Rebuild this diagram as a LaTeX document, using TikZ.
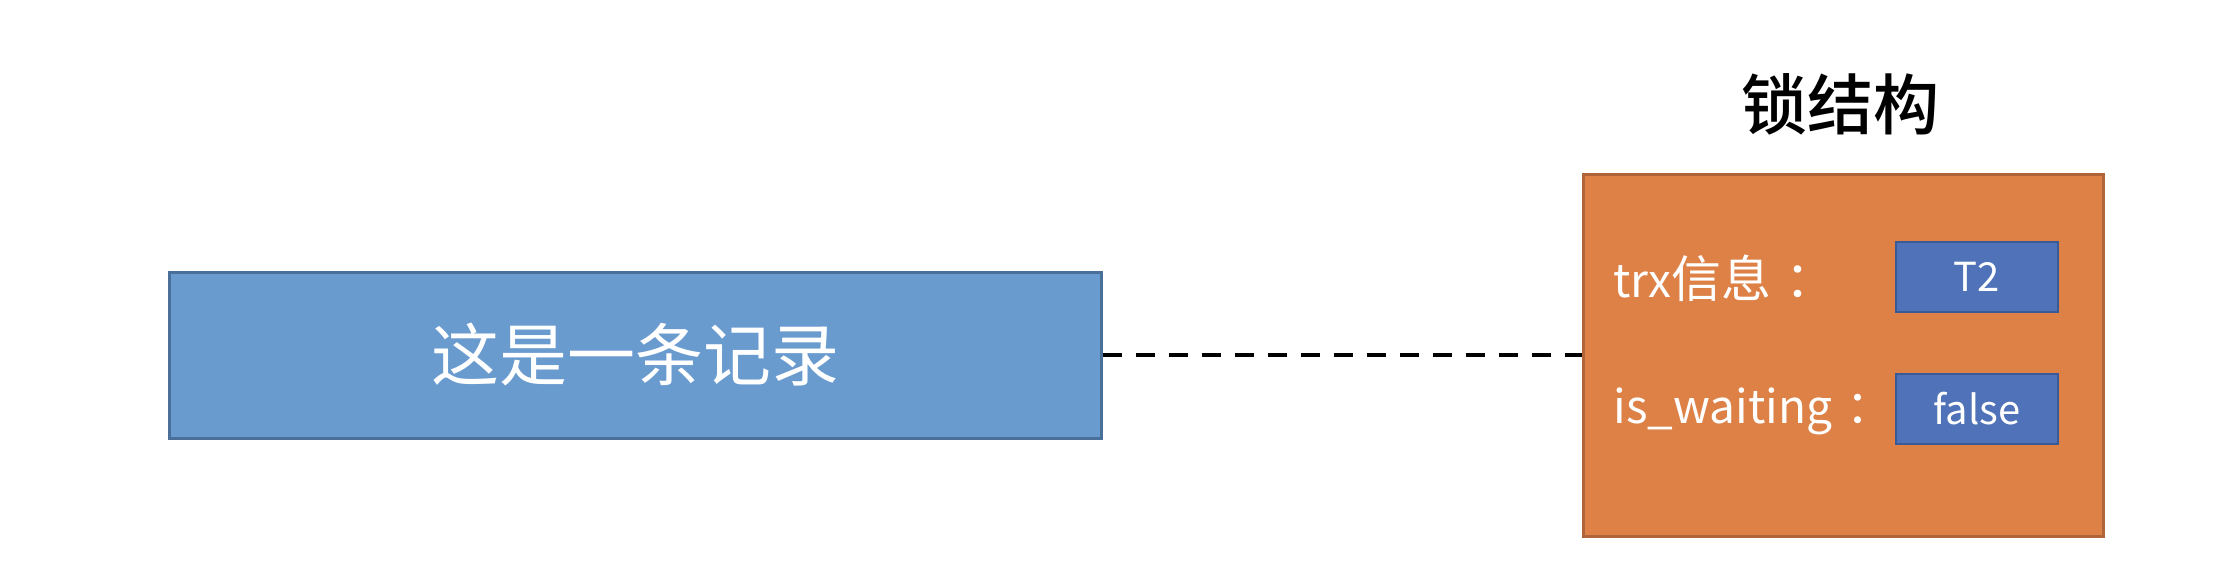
\documentclass[tikz,border=0pt]{standalone}
\usepackage{fontspec}
\setmainfont{Noto Sans CJK SC}
\newfontfamily\titlefont{Noto Sans CJK SC Medium}
\usepackage{tikz}
\usetikzlibrary{positioning}
\definecolor{rec-blue}{RGB}{106,155,207}
\definecolor{rec-edge}{RGB}{74,111,153}
\definecolor{lk-orange}{RGB}{221,129,71}
\definecolor{lk-edge}{RGB}{176,100,58}
\definecolor{val-blue}{RGB}{79,114,184}
\definecolor{val-edge}{RGB}{58,90,149}

\tikzset{
    recbox/.style={draw=rec-edge, fill=rec-blue, line width=1.5pt, text=white,
        minimum width=466pt, minimum height=83pt, font=\fontsize{34}{40}\selectfont},
    lockbox/.style={draw=lk-edge, fill=lk-orange, line width=1.5pt,
        minimum width=260pt, minimum height=181pt},
    valbox/.style={draw=val-edge, fill=val-blue, line width=1pt, text=white,
        minimum width=81pt, minimum height=35pt, font=\fontsize{20}{24}\selectfont},
    fieldlabel/.style={text=white, inner sep=0pt, font=\fontsize{23}{27}\selectfont}
}

\begin{document}
\begin{tikzpicture}[x=0.5pt,y=-0.5pt]
    \useasboundingbox (0,0) rectangle (2222,574);

    \node[recbox] (record) at (635,355) {这是一条记录};
    \node[lockbox] (lock) at (1843,355) {};
    \node[font=\titlefont\fontsize{33}{38}\selectfont] (title) at (1840,104) {锁结构};

    \node[fieldlabel, anchor=west] (trx) at (1613,278) {trx\fontsize{25}{27}\selectfont 信息\hspace{7pt}：};
    \node[fieldlabel, anchor=west] (wait) at (1613,411) {is\_waiting\hspace{7pt}：};
    \node[valbox] (t2) at (1977,277) {T2};
    \node[valbox] (flag) at (1977,409) {false};

    \draw[line width=2pt, dash pattern=on 9.5pt off 7pt] (record.east) -- (lock.west);
\end{tikzpicture}
\end{document}
